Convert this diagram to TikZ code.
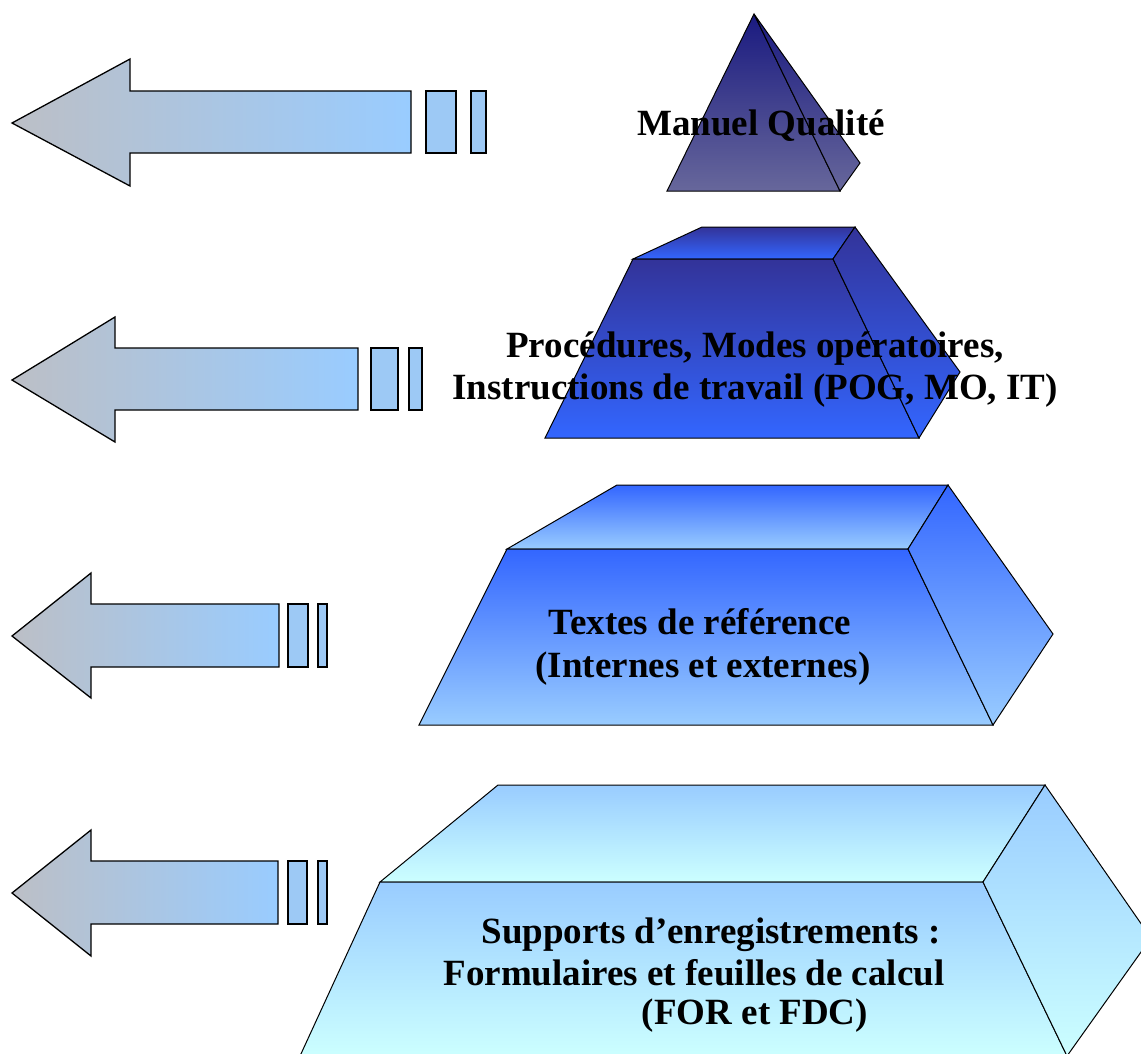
\documentclass[tikz,border=0pt]{standalone}
\usepackage{fontspec}
\setmainfont{Liberation Serif}
\definecolor{qnavy}{HTML}{1A1A80}
\definecolor{qgrayblue}{HTML}{67679B}
\definecolor{qdark}{HTML}{333399}
\definecolor{qblue}{HTML}{3366FF}
\definecolor{qlight}{HTML}{99CCFF}
\definecolor{qpale}{HTML}{CCFFFF}
\definecolor{qgray}{HTML}{BCBFC6}
\definecolor{qbar}{HTML}{9DC9F5}
\begin{document}
\begin{tikzpicture}[x=1pt,y=-1pt,
  face/.style={draw=black, line width=1pt, line join=miter},
  arrowshape/.style={draw=black, line width=1.3pt, left color=qgray, right color=qlight},
  barshape/.style={draw=black, line width=1.3pt, fill=qbar},
  lbl/.style={font=\bfseries\fontsize{37}{42}\selectfont, text=black, inner sep=0pt, anchor=base}]
\useasboundingbox (0,0) rectangle (1141,1053);
\clip (0,0) rectangle (1141,1053);
% ---------- arrows ----------
\shadedraw[arrowshape] (12,123) -- (130,59) -- (130,91) -- (411,91) -- (411,153) -- (130,153) -- (130,186) -- cycle;
\draw[barshape] (426,91) rectangle (456,153);
\draw[barshape] (471,91) rectangle (486,153);
\shadedraw[arrowshape] (12,380) -- (115,317) -- (115,348) -- (358,348) -- (358,410) -- (115,410) -- (115,442) -- cycle;
\draw[barshape] (371,348) rectangle (398,410);
\draw[barshape] (409,348) rectangle (422,410);
\shadedraw[arrowshape] (12,636) -- (91,573) -- (91,604) -- (279,604) -- (279,667) -- (91,667) -- (91,698) -- cycle;
\draw[barshape] (288,604) rectangle (308,667);
\draw[barshape] (318,604) rectangle (327,667);
\shadedraw[arrowshape] (12,893) -- (91,830) -- (91,861) -- (278,861) -- (278,924) -- (91,924) -- (91,956) -- cycle;
\draw[barshape] (288,861) rectangle (307,924);
\draw[barshape] (318,861) rectangle (327,924);
% ---------- level 1 : pyramid ----------
\shadedraw[face, top color=qnavy, bottom color=qgrayblue] (754,14) -- (840,191) -- (667,191) -- cycle;
\shadedraw[face, top color=qnavy, bottom color=qgrayblue] (754,14) -- (860,163) -- (840,191) -- cycle;
% ---------- level 2 ----------
\shadedraw[face, top color=qdark, bottom color=qblue] (702,227) -- (855,227) -- (833,259) -- (633,259) -- cycle;
\shadedraw[face, top color=qdark, bottom color=qblue] (633,259) -- (833,259) -- (919,438) -- (545,438) -- cycle;
\shadedraw[face, top color=qdark, bottom color=qblue] (855,227) -- (960,372) -- (919,438) -- (833,259) -- cycle;
% ---------- level 3 ----------
\shadedraw[face, top color=qblue, bottom color=qlight] (617,485) -- (948,485) -- (908,549) -- (507,549) -- cycle;
\shadedraw[face, top color=qblue, bottom color=qlight] (507,549) -- (908,549) -- (993,725) -- (419,725) -- cycle;
\shadedraw[face, top color=qblue, bottom color=qlight] (948,485) -- (1053,634) -- (993,725) -- (908,549) -- cycle;
% ---------- level 4 ----------
\shadedraw[face, top color=qlight, bottom color=qpale] (498,785) -- (1045,785) -- (983,882) -- (380,882) -- cycle;
\shadedraw[face, top color=qlight, bottom color=qpale] (380,882) -- (983,882) -- (1067,1056) -- (300,1056) -- cycle;
\shadedraw[face, top color=qlight, bottom color=qpale] (1045,785) -- (1151,938) -- (1067,1056) -- (983,882) -- cycle;
% ---------- labels ----------
\node[lbl] (mq) at (761,135) {Manuel Qualité};
\node[lbl] (p1) at (755,357) {Procédures, Modes opératoires,};
\node[lbl] (p2) at (755,399) {Instructions de travail (POG, MO, IT)};
\node[lbl] (t1) at (700,634) {Textes de référence};
\node[lbl] (t2) at (703,677) {(Internes et externes)};
\node[lbl] (s1) at (711,943) {Supports d’enregistrements :};
\node[lbl] (s2) at (694,985) {Formulaires et feuilles de calcul};
\node[lbl] (s3) at (755,1024) {(FOR et FDC)};
\end{tikzpicture}
\end{document}
